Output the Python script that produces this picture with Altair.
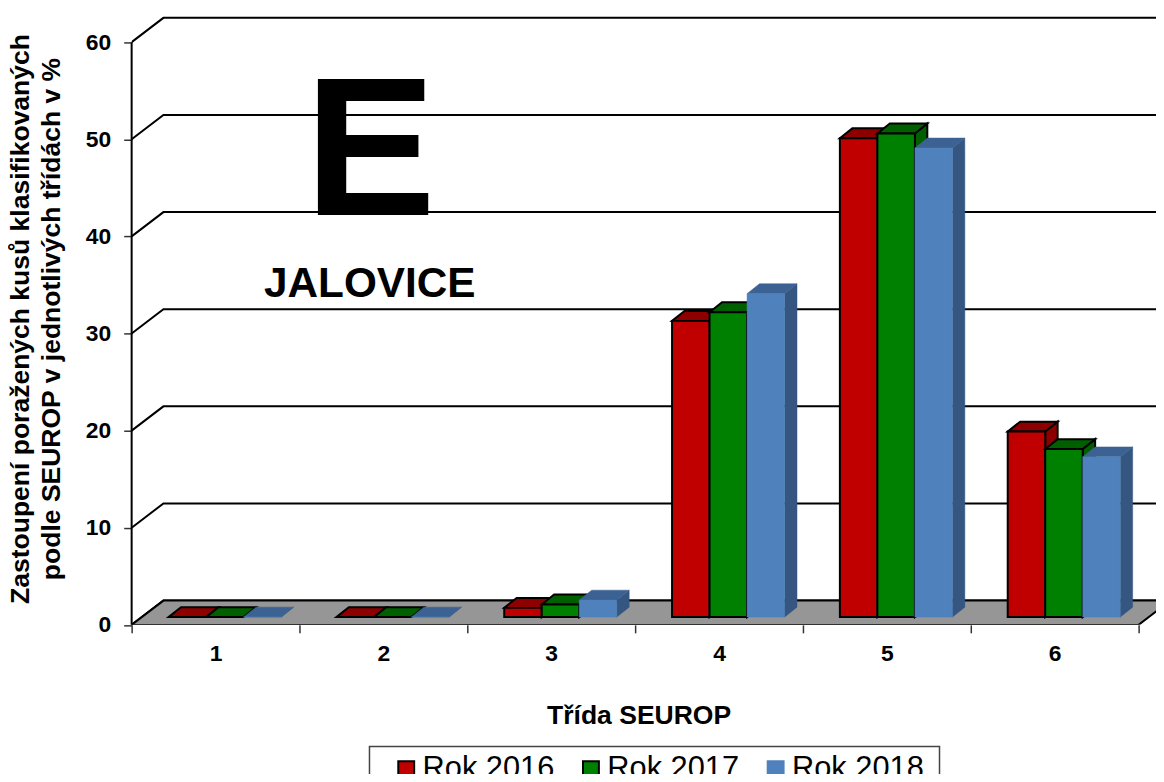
import altair as alt
import pandas as pd

categories = [1, 2, 3, 4, 5, 6]
series_names = ["Rok 2016", "Rok 2017", "Rok 2018"]
rok_2016 = [0, 0, 0.95, 30.5, 49.3, 19.1]
rok_2017 = [0, 0, 1.3, 31.4, 49.8, 17.3]
rok_2018 = [0, 0, 1.75, 33.3, 48.3, 16.5]
y_ticks = [0, 10, 20, 30, 40, 50, 60]
x_ticks = [0, 1, 2, 3, 4, 5, 6]

front = ["#c00000", "#008000", "#4f81bd"]
edge = ["#000000", "#000000", "#4f81bd"]
top_col = ["#8e0000", "#006000", "#3b6292"]
side_col = ["#8e0000", "#006000", "#345680"]

PX_X = 169.0
PX_Y = 9.78
PLOT_W = 1031.5
PLOT_H = 618.5
XMAX = PLOT_W / PX_X
YMAX = PLOT_H / PX_Y
BASE = 0.8
GAP = 0.22
BW = 0.2235
DX = 12.5 / PX_X
DY = 10 / PX_Y
WALL_DX = 32 / PX_X
WALL_DY = 2.5

xs = alt.Scale(domain=[0, XMAX], nice=False, zero=False)
ys = alt.Scale(domain=[0, YMAX], nice=False, zero=False)
x_axis = alt.Axis(
    values=x_ticks, domain=False, grid=False, tickSize=8, tickWidth=1.5, tickColor="#333333",
    labelOffset=84.5, labelExpr="datum.value < 6 ? datum.value + 1 : ''", labelFontSize=23,
    labelFontWeight="bold", labelFont="Liberation Sans", labelColor="black", labelPadding=10,
    labelFlush=False, labelBound=False, labelOverlap=False,
    titleFontSize=26.7, titleFontWeight="bold", titleFont="Liberation Sans", titleColor="black",
    titleX=510.5, titleY=91.5, titleBaseline="middle")
y_axis = alt.Axis(
    values=y_ticks, domain=False, grid=False, tickSize=8, tickWidth=1.5,
    tickColor="#333333", labelFontSize=23, labelFontWeight="bold",
    labelFont="Liberation Sans", labelColor="black", labelPadding=13,
    titleFontSize=26.7, titleFontWeight="bold", titleFont="Liberation Sans",
    titleColor="black", titleAngle=-90, titleX=-98, titleY=310,
    titleLineHeight=31, titleBaseline="bottom")
x_title = "Třída SEUROP"
y_title = ["Zastoupení poražených kusů klasifikovaných", "podle SEUROP v jednotlivých třídách v %"]
X = lambda f: alt.X(f, type="quantitative", scale=xs, axis=x_axis, title=x_title)
Y = lambda f: alt.Y(f, type="quantitative", scale=ys, axis=y_axis, title=y_title, stack=None)

wall_rows = []
for v in y_ticks:
    wall_rows += [dict(level=v, pt=0, x=0, y=v),
                  dict(level=v, pt=1, x=WALL_DX, y=v + WALL_DY),
                  dict(level=v, pt=2, x=XMAX + 0.2, y=v + WALL_DY)]
wall_df = pd.DataFrame(wall_rows)

wall = alt.Chart(wall_df).mark_line(color="black", strokeWidth=2, clip=True).encode(
    x=X("x"), y=Y("y"), detail="level:N", order="pt:Q")

left_line = alt.Chart(pd.DataFrame({"x": [0], "y": [0], "y2": [60]})).mark_rule(color="black", strokeWidth=2).encode(
    x=X("x"), y=Y("y"), y2="y2:Q")

floor_df = pd.DataFrame({"y": [0, WALL_DY], "x": [0, WALL_DX], "x2": [6, 6 + WALL_DX]})
floor = alt.Chart(floor_df).mark_area(orient="horizontal", fill="#969696", stroke="black",
                                      strokeWidth=2, clip=True).encode(
    y=Y("y"), x=X("x"), x2="x2:Q")

text_df = pd.DataFrame({"x": [(307 - 132.7) / PX_X, (266 - 132.7) / PX_X],
                        "y": [(626.5 - 214) / PX_Y, (626.5 - 296) / PX_Y],
                        "t": ["E", "JALOVICE"]})
big_e = alt.Chart(text_df[text_df.t == "E"]).mark_text(
    font="Liberation Sans", fontWeight="bold", fontSize=198, align="left", baseline="alphabetic", color="black"
).encode(x=X("x"), y=Y("y"), text="t:N")
jal = alt.Chart(text_df[text_df.t == "JALOVICE"]).mark_text(
    font="Liberation Sans", fontWeight="bold", fontSize=42.6, align="left", baseline="alphabetic", color="black"
).encode(x=X("x"), y=Y("y"), text="t:N")

legend_box = alt.Chart(pd.DataFrame({"k": [0]})).mark_rect(
    fill="white", stroke="#444444", strokeWidth=1.5
).encode(x=alt.value(239.5), x2=alt.value(813.5), y=alt.value(741), y2=alt.value(800))

layers = [wall, floor, left_line, big_e, jal, legend_box]

for s, (name, vals) in enumerate(zip(series_names, [rok_2016, rok_2017, rok_2018])):
    side_rows, top_rows, front_rows = [], [], []
    for c, v in zip(categories, vals):
        xl = (c - 1) + GAP + s * BW
        xr = xl + BW
        yt = v + BASE
        side_rows += [dict(cat=c, x=xr, y=yt, y2=BASE), dict(cat=c, x=xr + DX, y=yt + DY, y2=BASE + DY)]
        top_rows += [dict(cat=c, y=yt, x=xl, x2=xr), dict(cat=c, y=yt + DY, x=xl + DX, x2=xr + DX)]
        front_rows.append(dict(cat=c, x=xl, x2=xr, y=yt, y2=BASE, series=name))
    sw = 2 if s < 2 else 0.5
    layers.append(alt.Chart(pd.DataFrame(side_rows)).mark_area(
        fill=side_col[s], stroke=edge[s] if s < 2 else side_col[s], strokeWidth=sw
    ).encode(x=X("x"), y=Y("y"), y2="y2:Q", detail="cat:N"))
    layers.append(alt.Chart(pd.DataFrame(top_rows)).mark_area(
        orient="horizontal", fill=top_col[s], stroke=edge[s] if s < 2 else top_col[s], strokeWidth=sw
    ).encode(y=Y("y"), x=X("x"), x2="x2:Q", detail="cat:N"))
    layers.append(alt.Chart(pd.DataFrame(front_rows)).mark_rect(strokeWidth=sw).encode(
        x=X("x"), x2="x2:Q", y=Y("y"), y2="y2:Q",
        fill=alt.Fill("series:N", scale=alt.Scale(domain=series_names, range=front),
                      legend=alt.Legend(
                          orient="none", legendX=261, legendY=748, direction="horizontal", columns=3,
                          title=None, symbolType="square", symbolSize=256, symbolStrokeWidth=2,
                          labelFontSize=31, labelFont="Liberation Sans", labelColor="black",
                          labelOffset=1, labelLimit=300, columnPadding=21, padding=0,
                          symbolOpacity=1, rowPadding=0)),
        stroke=alt.Stroke("series:N", scale=alt.Scale(domain=series_names, range=edge), legend=None),
    ))

chart = alt.layer(*layers).resolve_scale(x="shared", y="shared").properties(
    width=PLOT_W, height=PLOT_H,
    autosize=alt.AutoSizeParams(type="none"),
    padding={"left": 124.5, "top": 0, "right": 0, "bottom": 147.5},
).configure_view(stroke=None)

chart.save("out.html", embed_options={"renderer": "svg", "actions": False})
